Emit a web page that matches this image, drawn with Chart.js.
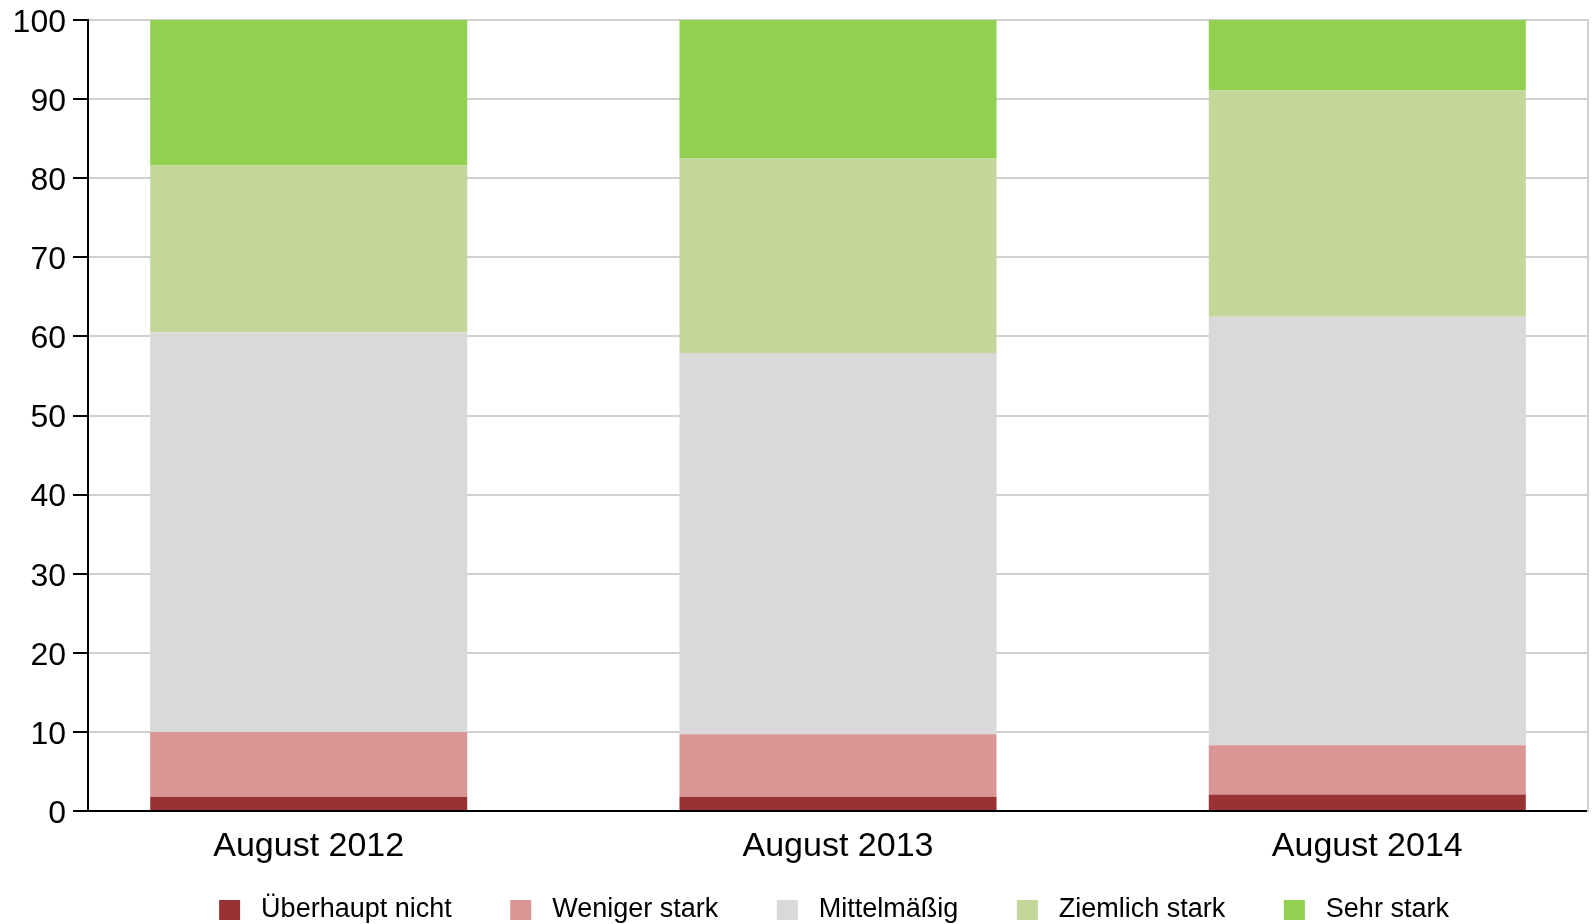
<!DOCTYPE html>
<html>
<head>
<meta charset="utf-8">
<script src="https://cdn.jsdelivr.net/npm/chart.js@4.4.1/dist/chart.umd.min.js"></script>
<style>
    html, body { margin: 0; padding: 0; background: #fff; }
</style>
</head>
<body>
<canvas id="myChart" width="1593" height="924"></canvas>
<script>
var categories = ['August 2012', 'August 2013', 'August 2014'];
var seriesNames = ['Überhaupt nicht', 'Weniger stark', 'Mittelmäßig', 'Ziemlich stark', 'Sehr stark'];
var seriesColors = ['#993333', '#da9694', '#d9d9d9', '#c4d79b', '#92d050'];

// percent shares, bottom to top
var ueberhauptNicht = [1.8, 1.8, 2.1];
var wenigerStark = [8.2, 7.9, 6.2];
var mittelmaessig = [50.5, 48.2, 54.2];
var ziemlichStark = [21.1, 24.6, 28.6];
var sehrStark = [18.4, 17.5, 8.9];

var yMin = 0, yMax = 100, yStep = 10;

var fontFamily = '"Liberation Sans", Arial, sans-serif';
var allSeries = [ueberhauptNicht, wenigerStark, mittelmaessig, ziemlichStark, sehrStark];

var datasets = [];
for (let i = 0; i < allSeries.length; i++) {
    datasets.push({
        label: seriesNames[i],
        // x is the category index, so the outer margins can be narrower than half a slot
        data: allSeries[i].map(function (v, k) { return { x: k, y: v }; }),
        backgroundColor: seriesColors[i],
        borderWidth: 0,
        barPercentage: 0.599,
        categoryPercentage: 1.0
    });
}

// move the legend to where the original has it
const legendShift = {
    id: 'legendShift',
    afterLayout: function (chart) {
        let lg = chart.legend;
        let h = lg.height;
        lg.left += 40;
        lg.right += 40;
        lg.top = 838;
        lg.bottom = 838 + h;
    }
};

const ctx = document.getElementById('myChart').getContext('2d');
var myChart = new Chart(ctx, {
    type: 'bar',
    data: {
        datasets: datasets
    },
    plugins: [legendShift],
    options: {
        responsive: false,
        animation: false,
        layout: {
            padding: { left: 0, right: 5, top: 20, bottom: -34.5 }
        },
        scales: {
            x: {
                type: 'linear',
                stacked: true,
                offset: false,
                min: -0.417,
                max: 2.417,
                grid: { display: false, drawTicks: false, offset: false },
                border: { color: '#000', width: 2 },
                ticks: {
                    stepSize: 1,
                    includeBounds: false,
                    autoSkip: false,
                    maxRotation: 0,
                    color: '#000',
                    padding: 15,
                    font: { family: fontFamily, size: 34 },
                    callback: function (value) {
                        return categories[value] !== undefined ? categories[value] : '';
                    }
                },
                afterFit: function (scale) { scale.height = 52; }
            },
            y: {
                stacked: true,
                min: yMin,
                max: yMax,
                grid: { color: '#d0d0d0', lineWidth: 2, tickColor: '#000', tickLength: 15 },
                border: { color: '#000', width: 2 },
                ticks: {
                    stepSize: yStep,
                    color: '#000',
                    padding: 7,
                    labelOffset: 3,
                    font: { family: fontFamily, size: 32 }
                },
                afterFit: function (scale) {
                    scale.width = 88;
                    scale.paddingTop = 0;
                    scale.paddingBottom = 0;
                }
            },
            y2: {
                position: 'right',
                grid: { display: false, drawTicks: false },
                border: { color: '#d0d0d0', width: 2 },
                ticks: { display: false },
                afterFit: function (scale) { scale.width = 0; }
            }
        },
        plugins: {
            tooltip: { enabled: false },
            legend: {
                position: 'bottom',
                labels: {
                    color: '#000',
                    boxWidth: 21,
                    boxHeight: 20,
                    padding: 58.5,
                    font: { family: fontFamily, size: 27 },
                    generateLabels: function (chart) {
                        let items = Chart.defaults.plugins.legend.labels.generateLabels(chart);
                        items.forEach(function (it) {
                            it.text = ' ' + it.text;
                            it.lineWidth = 0;
                        });
                        return items;
                    }
                }
            }
        }
    }
});
</script>
</body>
</html>
